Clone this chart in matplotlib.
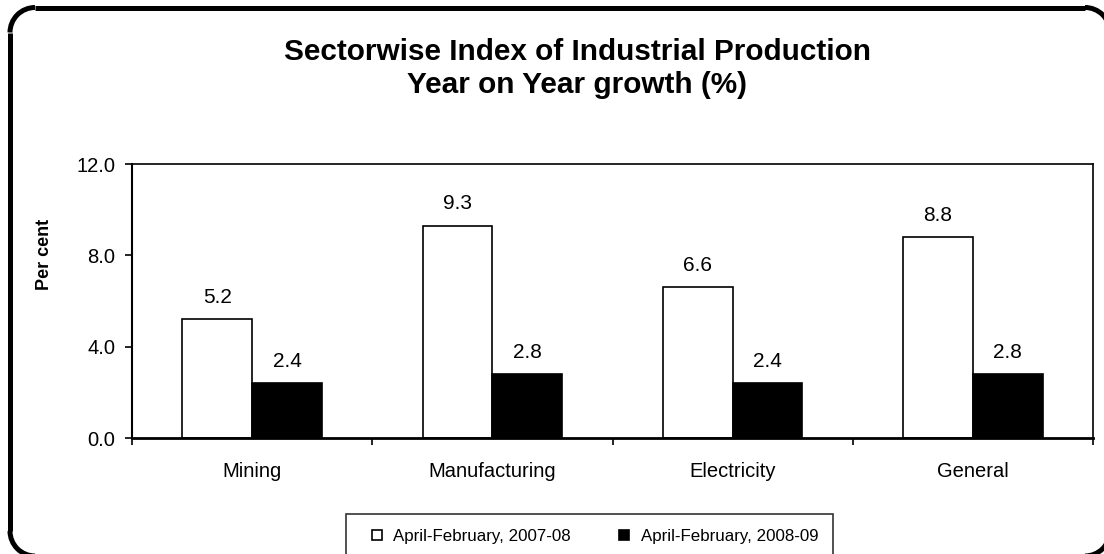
import matplotlib.pyplot as plt
from matplotlib.patches import Arc
from matplotlib.lines import Line2D

plt.rcParams['font.family'] = ['Liberation Sans', 'DejaVu Sans']

# Data
categories = ["Mining", "Manufacturing", "Electricity", "General"]
series_names = ["April-February, 2007-08", "April-February, 2008-09"]
growth_0708 = [5.2, 9.3, 6.6, 8.8]
growth_0809 = [2.4, 2.8, 2.4, 2.8]

W, H = 1104, 554
fig = plt.figure(figsize=(W / 100, H / 100), dpi=100)

# rounded outer frame on a full-figure background axes, pixel units (y up)
bg = fig.add_axes([0, 0, 1, 1], zorder=-1)
bg.set_xlim(0, W)
bg.set_ylim(0, H)
bg.axis("off")
left, right, top, bottom, r = 10, 1110, H - 7.5, -2, 25
lw = 3.6
for xs, ys in (([left + r, right - r], [top, top]),
               ([left, left], [top - r, bottom + r]),
               ([left + r, right - r], [bottom, bottom])):
    bg.plot(xs, ys, color="black", linewidth=lw, solid_capstyle="butt")
for (cx, cy), t1, t2 in (((left + r, top - r), 90, 180), ((right - r, top - r), 0, 90),
                         ((left + r, bottom + r), 180, 270), ((right - r, bottom + r), 270, 360)):
    bg.add_patch(Arc((cx, cy), 2 * r, 2 * r, theta1=t1, theta2=t2, color="black", linewidth=lw))

# main plot area
ax = fig.add_axes([132 / W, 1 - 438 / H, (1093 - 132) / W, (438 - 164) / H])
x = list(range(len(categories)))
bw = 0.29
b1 = ax.bar([i - bw / 2 for i in x], growth_0708, bw, color="white", edgecolor="black", linewidth=1.2)
b2 = ax.bar([i + bw / 2 for i in x], growth_0809, bw, color="black", edgecolor="black", linewidth=1.2)

for bars, vals in ((b1, growth_0708), (b2, growth_0809)):
    for rect, v in zip(bars, vals):
        ax.annotate(f"{v:.1f}", (rect.get_x() + rect.get_width() / 2, v),
                    xytext=(0, 9), textcoords="offset points",
                    ha="center", va="bottom", fontsize=15)

ax.set_xlim(-0.5, len(categories) - 0.5)
ax.set_ylim(0, 12)
ax.set_yticks([0, 4, 8, 12])
ax.set_yticklabels([f"{v:.1f}" for v in [0, 4, 8, 12]], fontsize=14.5)
ax.set_xticks([i - 0.5 for i in range(len(categories) + 1)])
ax.set_xticklabels([])
ax.set_xticks(x, minor=True)
ax.set_xticklabels(categories, minor=True, fontsize=14.5)
ax.tick_params(axis="x", which="major", direction="out", length=5, width=1.2)
ax.tick_params(axis="x", which="minor", length=0, pad=17)
ax.tick_params(axis="y", direction="out", length=5, width=1.2, pad=7)
ax.set_ylabel("Per cent", fontsize=13, fontweight="bold")
ax.yaxis.set_label_coords((53 - 132) / 961, (438 - 254) / 274)

ax.spines["bottom"].set_linewidth(2)
ax.spines["left"].set_linewidth(1.5)
ax.spines["top"].set_linewidth(1.2)
ax.spines["right"].set_linewidth(1.2)

fig.text(577 / W, 1 - 52 / H, "Sectorwise Index of Industrial Production",
         ha="center", va="center", fontsize=21.4, fontweight="bold")
fig.text(577 / W, 1 - 85 / H, "Year on Year growth (%)",
         ha="center", va="center", fontsize=21.4, fontweight="bold")

handles = [Line2D([], [], linestyle="none", marker="s", markersize=7.5,
                  markerfacecolor="white", markeredgecolor="black", markeredgewidth=1.2),
           Line2D([], [], linestyle="none", marker="s", markersize=7.5,
                  markerfacecolor="black", markeredgecolor="black", markeredgewidth=1.2)]
leg = fig.legend(handles, series_names, loc="upper left", bbox_to_anchor=(346 / W, 1 - 514 / H),
                 borderaxespad=0, ncol=2, fontsize=12.2, frameon=True, fancybox=False,
                 borderpad=0.9, handlelength=1.8, handletextpad=0.05, columnspacing=2.3)
leg.get_frame().set_edgecolor("black")
leg.get_frame().set_linewidth(1.2)

fig.savefig("out.png", dpi=100)
